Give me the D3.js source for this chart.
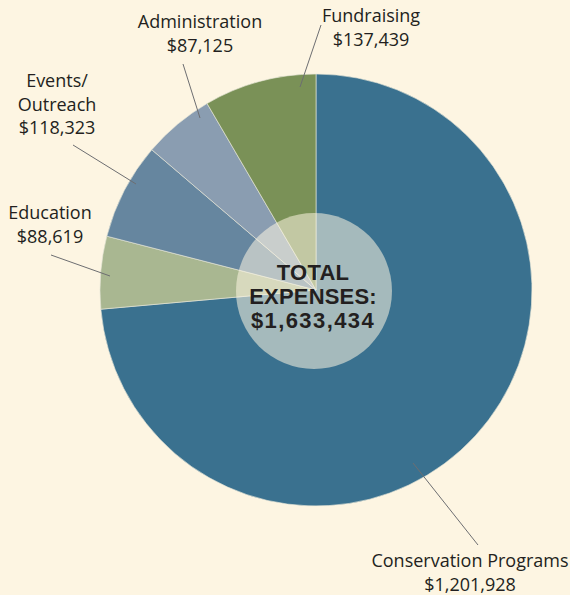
<!DOCTYPE html>
<html><head><meta charset="utf-8">
<script src="https://cdn.jsdelivr.net/npm/d3@7"></script>
<style>
html,body{margin:0;padding:0;background:#fdf5e2;}
svg{display:block;}
</style></head>
<body>
<script>
const categories = ["Conservation Programs", "Education", "Events/ Outreach", "Administration", "Fundraising"];
const values = [1201928, 88619, 118323, 87125, 137439];
const colors = ["#3a718f", "#a9b791", "#66869f", "#8a9db1", "#7a9157"];
const totalLabel = ["TOTAL", "EXPENSES:"];

const W = 570, H = 595;
const cx = 316, cy = 290, R = 216, rCenter = 78;

// label layout: text anchor and leader line endpoints (annotation layout)
const labelLayout = {
  "Conservation Programs": {x: 470, y: 567, lines: ["Conservation Programs"], line: [[413,463],[478,545]]},
  "Education": {x: 50, y: 219, lines: ["Education"], line: [[110,276],[51,255]]},
  "Events/ Outreach": {x: 57, y: 87, lines: ["Events/", "Outreach"], line: [[136,184],[73,145]]},
  "Administration": {x: 200, y: 28, lines: ["Administration"], line: [[200,118],[183,64]]},
  "Fundraising": {x: 371, y: 22, lines: ["Fundraising"], line: [[300,87],[321,25]]}
};

const fmt = d3.format("$,");

const svg = d3.select("body").append("svg").attr("width", W).attr("height", H);
svg.append("rect").attr("width", W).attr("height", H).attr("fill", "#fdf5e2");

const data = categories.map((c, i) => ({cat: c, value: values[i], color: colors[i]}));
const pie = d3.pie().value(d => d.value).sort(null).startAngle(0).endAngle(2 * Math.PI);
const arc = d3.arc().innerRadius(0).outerRadius(R);

const g = svg.append("g").attr("transform", `translate(${cx},${cy})`);
g.selectAll("path.slice").data(pie(data)).join("path")
  .attr("class", "slice")
  .attr("d", arc)
  .attr("fill", d => d.data.color)
  .attr("stroke", "#e6e6d8")
  .attr("stroke-width", 0.8)
  .attr("stroke-opacity", 0.8);

// center overlay
g.append("circle").attr("cx", -2).attr("cy", 1).attr("r", rCenter)
  .attr("fill", "#fdf5e2").attr("fill-opacity", 0.55);

// center text (separate text elements per line)
const ctLines = [...totalLabel, fmt(d3.sum(values))];
g.selectAll("text.total").data(ctLines).join("text")
  .attr("class", "total")
  .attr("text-anchor", "middle")
  .attr("font-family", "'Liberation Sans', Arial, sans-serif")
  .attr("font-weight", 700).attr("font-size", 22)
  .attr("letter-spacing", (d, i) => i < 2 ? 0.2 : 1.4)
  .attr("fill", "#231f20")
  .attr("x", -3).attr("y", (d, i) => -10 + i * 24)
  .text(d => d);

// leader lines and labels
data.forEach(d => {
  const L = labelLayout[d.cat];
  svg.append("line")
    .attr("x1", L.line[0][0]).attr("y1", L.line[0][1])
    .attr("x2", L.line[1][0]).attr("y2", L.line[1][1])
    .attr("stroke", "#6d6e71").attr("stroke-width", 1);
  const t = svg.append("text").attr("text-anchor", "middle")
    .attr("font-family", "'Open Sans', 'Noto Sans', sans-serif")
    .attr("font-size", 18).attr("fill", "#231f20");
  const lines = [...L.lines, fmt(d.value)];
  lines.forEach((s, i) => {
    t.append("tspan").attr("x", L.x).attr("y", L.y + i * 23.5).text(s);
  });
});
</script>
</body></html>
